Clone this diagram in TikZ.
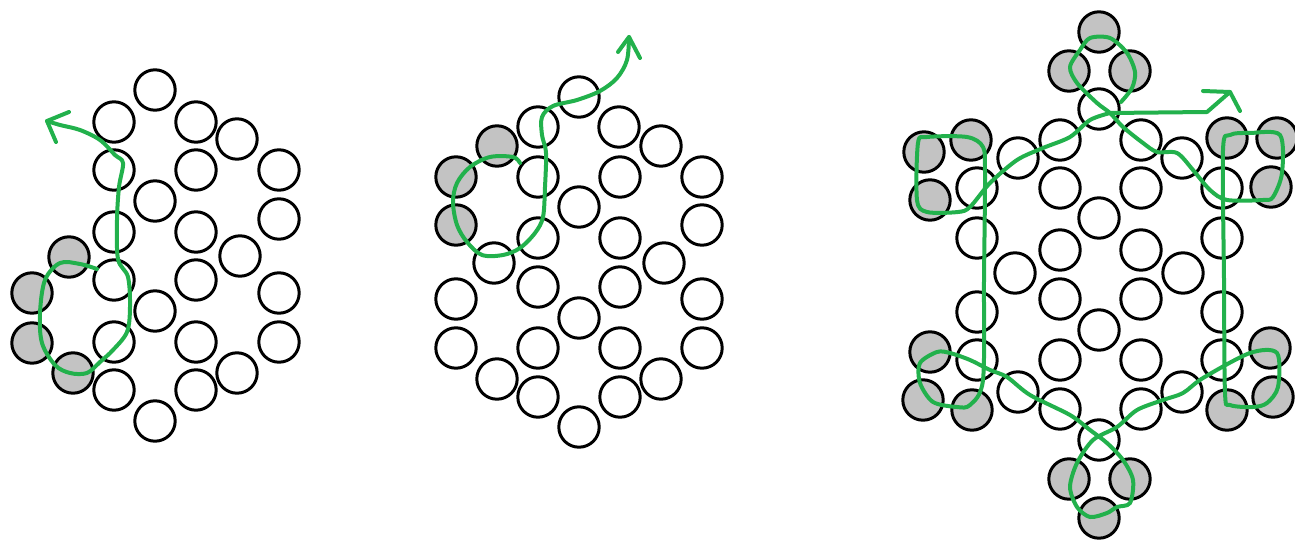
\documentclass[tikz,border=0pt]{standalone}
\usepackage{tikz}
\definecolor{paintgreen}{RGB}{34,177,76}
\definecolor{ballgray}{RGB}{195,195,195}
\tikzset{
	ball/.style={draw=black, line width=3pt, fill=white},
	grayball/.style={ball, fill=ballgray},
	trail/.style={draw=paintgreen, line width=4pt, line cap=round, line join=round},
}
\begin{document}
\begin{tikzpicture}[x=1pt, y=-1pt]

	\useasboundingbox (0, 0) rectangle (1295, 540);

	\def\rad{20.2pt}

	% premier amas
	\foreach \x/\y in {155/90, 114/122, 196/122, 237/139, 279/170, 114/170, 196/170, 155/201,
		279/219, 114/232, 196/232, 240/256, 114/280, 196/280, 279/293, 155/311, 114/342,
		196/342, 279/342, 237/373, 114/390, 196/390, 155/421}
		\draw[ball] (\x, \y) circle (\rad);
	\foreach \x/\y in {69/257, 32/293, 32/343, 73/373}
		\draw[grayball] (\x, \y) circle (\rad);

	\draw[trail] plot[smooth, tension=0.55] coordinates {(97, 269) (80, 264) (60, 263) (45, 280)
		(40, 313) (42, 343) (55, 365) (70, 373) (87, 373) (100, 362) (113, 350) (127, 332)
		(130, 307) (128, 277) (118, 259) (117, 220) (119, 187) (123, 163) (115, 155) (100, 140)
		(80, 130) (60, 125) (47, 121)};
	\draw[trail] (69, 112) -- (47, 121) -- (56, 142);

	% deuxieme amas
	\foreach \x/\y in {579/97, 538/127, 619/127, 661/146, 538/177, 620/177, 702/177, 579/207,
		702/225, 538/238, 620/238, 494/263, 664/263, 538/287, 620/287, 456/299, 702/299,
		579/318, 456/348, 538/348, 620/348, 702/348, 497/379, 661/379, 538/397, 620/397, 579/427}
		\draw[ball] (\x, \y) circle (\rad);
	\foreach \x/\y in {497/146, 456/177, 456/225}
		\draw[grayball] (\x, \y) circle (\rad);

	\draw[trail] plot[smooth, tension=0.55] coordinates {(520, 163) (513, 157) (490, 157)
		(470, 167) (457, 183) (453, 202) (457, 225) (467, 242) (482, 255) (503, 255) (520, 248)
		(535, 233) (543, 217) (545, 187) (546, 153) (542, 135) (542, 117) (553, 106) (577, 100)
		(600, 91) (617, 78) (627, 60) (629, 37)};
	\draw[trail] (618, 52) -- (629, 37) -- (640, 58);

	% troisieme amas
	\foreach \x/\y in {1099/109, 1018/158, 1060/140, 1141/140, 1182/158, 977/188, 1060/188,
		1141/188, 1222/188, 1099/218, 977/238, 1060/250, 1141/250, 1222/238, 1015/273,
		1183/273, 1060/299, 1141/299, 977/312, 1222/312, 1099/330, 977/360, 1060/360,
		1141/360, 1222/360, 1018/392, 1060/409, 1141/409, 1182/392, 1099/440}
		\draw[ball] (\x, \y) circle (\rad);
	\foreach \x/\y in {1099/32, 1069/71, 1130/71, 924/152, 971/140, 1227/138, 1277/138,
		930/200, 1271/187, 930/352, 1270/348, 923/400, 972/410, 1227/410, 1273/397,
		1069/479, 1130/479, 1099/518}
		\draw[grayball] (\x, \y) circle (\rad);

	\draw[trail] plot[smooth, tension=0.5] coordinates {(1110, 113) (1090, 120) (1070, 137)
		(1043, 148) (1017, 160) (990, 183) (970, 207) (958, 212) (927, 212) (917, 200)
		(918, 143) (927, 137) (967, 137) (983, 147) (985, 173) (984, 280) (983, 380)
		(970, 405) (957, 407) (933, 402) (920, 383) (920, 363) (937, 352) (950, 353)
		(970, 360) (990, 370) (1007, 377) (1030, 395) (1070, 415) (1090, 430) (1107, 443)
		(1123, 460) (1133, 480) (1130, 503) (1117, 507) (1107, 513) (1090, 517) (1077, 507)
		(1070, 487) (1077, 463) (1093, 440) (1117, 427) (1137, 410) (1163, 400) (1183, 393)
		(1203, 378) (1250, 353) (1277, 353) (1278, 387) (1267, 403) (1253, 407) (1230, 405)
		(1225, 393) (1224, 280) (1223, 150) (1230, 135) (1250, 133) (1280, 135) (1282, 173)
		(1273, 197) (1263, 200) (1227, 200) (1210, 190) (1193, 170) (1177, 153) (1157, 152)
		(1143, 143) (1123, 127) (1110, 113) (1097, 103) (1077, 83) (1070, 67) (1080, 50)
		(1090, 38) (1110, 38) (1127, 53) (1135, 72) (1132, 88) (1121, 102)};
	\draw[trail] (1110, 113) -- (1207, 112) -- (1230, 92);
	\draw[trail] (1203, 91) -- (1230, 92) -- (1240, 111);

\end{tikzpicture}
\end{document}
